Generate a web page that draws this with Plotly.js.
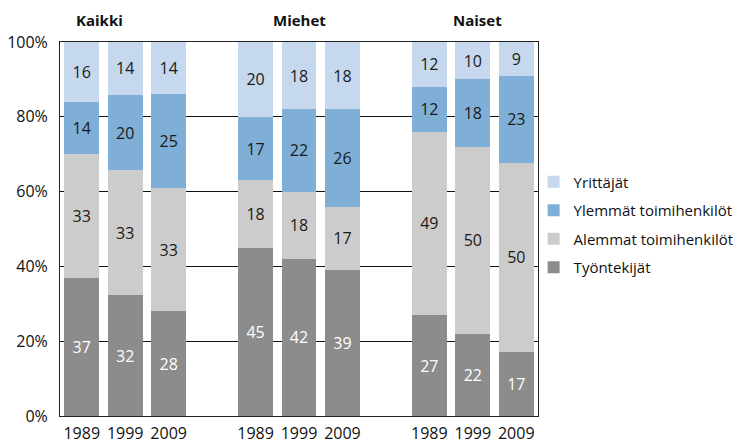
<!DOCTYPE html>
<html>
<head>
<meta charset="utf-8">
<script src="https://cdn.plot.ly/plotly-3.0.1.min.js"></script>
<style>html,body{margin:0;padding:0;background:#fff;}#chart{width:733px;height:444px;}</style>
</head>
<body>
<div id="chart"></div>
<script>
// Data
var groups = ["Kaikki", "Miehet", "Naiset"];
var years = ["1989", "1999", "2009"];
var seriesNames = ["Työntekijät", "Alemmat toimihenkilöt", "Ylemmät toimihenkilöt", "Yrittäjät"];
var tyontekijat = [37, 32, 28, 45, 42, 39, 27, 22, 17];
var alemmat     = [33, 33, 33, 18, 18, 17, 49, 50, 50];
var ylemmat     = [14, 20, 25, 17, 22, 26, 12, 18, 23];
var yrittajat   = [16, 14, 14, 20, 18, 18, 12, 10, 9];
var yTickVals = [0, 20, 40, 60, 80, 100];
var yTickText = ["0%", "20%", "40%", "60%", "80%", "100%"];

// Build x slots: 3 bars per group, one empty slot between groups
var xs = [], tickvals = [], ticktext = [];
groups.forEach(function (g, gi) {
  years.forEach(function (y, yi) {
    var pos = gi * 4 + yi;
    xs.push(pos); tickvals.push(pos); ticktext.push(y);
  });
});

var colors = ["#8c8c8c", "#cccccc", "#7fafd6", "#c5d8ed"];
var textColors = ["#ffffff", "#1a1a1a", "#1a1a1a", "#1a1a1a"];
var values = [tyontekijat, alemmat, ylemmat, yrittajat];
var font = "'Open Sans', 'Noto Sans', sans-serif";

var traces = values.map(function (v, i) {
  return {
    type: "bar",
    name: seriesNames[i],
    legendgroup: "g" + i,
    legendrank: values.length - i,
    x: xs,
    y: v,
    text: v.map(String),
    texttemplate: "%{text}",
    textposition: "inside",
    insidetextanchor: "middle",
    textangle: 0,
    constraintext: "none",
    textfont: {family: font, size: 16, color: textColors[i]},
    marker: {color: colors[i], line: {width: 0}},
    width: 0.8,
    hoverinfo: "name+y"
  };
});

var annotations = [
  {text: "<b>Kaikki</b>", x: 0.4, xref: "x", y: 1.06, yref: "paper", showarrow: false, font: {family: font, size: 15, color: "#111"}, xanchor: "center", yanchor: "middle"},
  {text: "<b>Miehet</b>", x: 5, xref: "x", y: 1.06, yref: "paper", showarrow: false, font: {family: font, size: 15, color: "#111"}, xanchor: "center", yanchor: "middle"},
  {text: "<b>Naiset</b>", x: 9.1, xref: "x", y: 1.06, yref: "paper", showarrow: false, font: {family: font, size: 15, color: "#111"}, xanchor: "center", yanchor: "middle"}
];

var layout = {
  width: 733, height: 444,
  margin: {l: 60, r: 195, t: 42, b: 28, autoexpand: false},
  paper_bgcolor: "#ffffff", plot_bgcolor: "#ffffff",
  barmode: "stack",
  barnorm: "percent",
  font: {family: font, size: 15, color: "#111"},
  showlegend: true,
  legend: {
    traceorder: "grouped",
    xref: "container", yref: "container",
    x: 0.728, xanchor: "left", y: 0.627, yanchor: "top",
    font: {family: font, size: 15, color: "#111"},
    itemwidth: 30,
    tracegroupgap: 6,
    bgcolor: "rgba(0,0,0,0)"
  },
  xaxis: {
    range: [-0.5, 10.5],
    tickmode: "array", tickvals: tickvals, ticktext: ticktext,
    showgrid: false, zeroline: false,
    showline: true, linecolor: "#222", linewidth: 1, mirror: true,
    ticks: "", ticklabelstandoff: 3,
    tickfont: {family: font, size: 16, color: "#111"}
  },
  yaxis: {
    range: [0, 100],
    tickmode: "array", tickvals: yTickVals, ticktext: yTickText,
    showgrid: true, gridcolor: "#111", gridwidth: 1,
    zeroline: false,
    showline: true, linecolor: "#222", linewidth: 1, mirror: true,
    ticks: "", ticklabelstandoff: 8,
    tickfont: {family: font, size: 16, color: "#111"}
  },
  annotations: annotations
};

Plotly.newPlot("chart", traces, layout, {displayModeBar: false, staticPlot: true});
</script>
</body>
</html>
